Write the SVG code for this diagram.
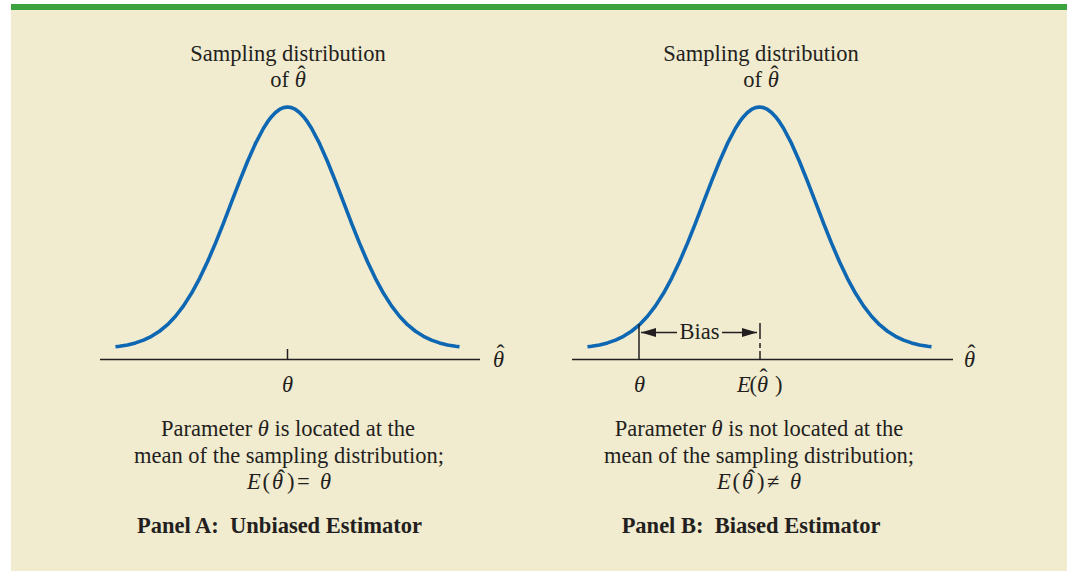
<svg xmlns="http://www.w3.org/2000/svg" xmlns:xlink="http://www.w3.org/1999/xlink" width="1070" height="572" viewBox="0 0 1070 572">
<style>
  .t { font-family: "Liberation Serif", "Times New Roman", serif; font-size: 22.5px; fill: #231F20; }
  .b { font-weight: bold; }
  .i { font-style: italic; }
  .hat { font-family: "Liberation Serif", "Times New Roman", serif; font-size: 24px; fill: #231F20; text-anchor: middle; }
  .mid { text-anchor: middle; }
  .ln { stroke: #231F20; stroke-width: 1.5; fill: none; }
  .curve { stroke: #0E67B2; stroke-width: 3.6; fill: none; stroke-linejoin: round; }
</style>
<defs>
  <path id="gauss" d="M-172,346.84 L-168,346.31 L-160,344.92 L-152,342.92 L-144,340.13 L-136,336.32 L-128,331.25 L-120,324.64 L-112,316.25 L-104,305.87 L-96,293.33 L-88,278.6 L-80,261.77 L-72,243.11 L-64,223.05 L-56,202.22 L-48,181.4 L-40,161.5 L-32,143.45 L-24,128.23 L-20,121.95 L-16,116.68 L-12,112.5 L-8,109.46 L-4,107.62 L0,107 L4,107.62 L8,109.46 L12,112.5 L16,116.68 L20,121.95 L24,128.23 L32,143.45 L40,161.5 L48,181.4 L56,202.22 L64,223.05 L72,243.11 L80,261.77 L88,278.6 L96,293.33 L104,305.87 L112,316.25 L120,324.64 L128,331.25 L136,336.32 L144,340.13 L152,342.92 L160,344.92 L168,346.31 L172,346.84"/>
  <marker id="ah" markerWidth="15" markerHeight="9" refX="15" refY="4.5" orient="auto" markerUnits="userSpaceOnUse">
    <path d="M0,0 L15,4.5 L0,9 z" fill="#231F20"/>
  </marker>
</defs>

<rect x="0" y="0" width="1070" height="572" fill="#FFFFFF"/>
<rect x="11" y="4" width="1056" height="567" fill="#F1EBCF"/>
<rect x="11" y="4" width="1056" height="6" fill="#3DA33F"/>

<g id="panelA">
  <text class="t mid" x="288" y="61">Sampling distribution</text>
  <text class="t mid" x="288" y="87">of <tspan class="i">θ</tspan></text>
  <text class="hat" x="301.5" y="82">ˆ</text>
  <use xlink:href="#gauss" href="#gauss" x="287.5" class="curve"/>
  <line class="ln" x1="100" y1="359.5" x2="480" y2="359.5"/>
  <line class="ln" x1="287.5" y1="349" x2="287.5" y2="359.5"/>
  <text class="t i" x="493" y="366.5">θ</text>
  <text class="hat" x="500.5" y="361">ˆ</text>
  <text class="t i mid" x="287.5" y="391.5">θ</text>
  <text class="t mid" x="288" y="436">Parameter <tspan class="i">θ</tspan> is located at the</text>
  <text class="t mid" x="289" y="462.5">mean of the sampling distribution;</text>
  <text class="t" y="489"><tspan class="i" x="247">E</tspan><tspan x="262.5">(</tspan><tspan class="i" x="272">θ</tspan><tspan x="287">)</tspan><tspan x="297">=</tspan><tspan class="i" x="320">θ</tspan></text>
  <text class="hat" x="281" y="485.5">ˆ</text>
  <text class="t b mid" x="279.5" y="533">Panel A:&#160; Unbiased Estimator</text>
</g>

<g id="panelB">
  <text class="t mid" x="761" y="61">Sampling distribution</text>
  <text class="t mid" x="761" y="87">of <tspan class="i">θ</tspan></text>
  <text class="hat" x="774.5" y="82">ˆ</text>
  <use xlink:href="#gauss" href="#gauss" x="759.5" class="curve"/>
  <line class="ln" x1="572" y1="359.5" x2="953" y2="359.5"/>
  <line class="ln" x1="639" y1="324" x2="639" y2="359.5"/>
  <line class="ln" x1="760" y1="323" x2="760" y2="339"/>
  <line class="ln" x1="760" y1="343" x2="760" y2="348"/>
  <line class="ln" x1="760" y1="351" x2="760" y2="359.5"/>
  <text class="t i" x="964" y="366.5">θ</text>
  <text class="hat" x="971.5" y="361">ˆ</text>
  <text class="t i mid" x="639.5" y="391.5">θ</text>
  <text class="t" y="391.5"><tspan class="i" x="737">E</tspan><tspan x="749.5">(</tspan><tspan class="i" x="757">θ</tspan><tspan x="775">)</tspan></text>
  <text class="hat" x="763.5" y="384.5">ˆ</text>
  <text class="t mid" x="759" y="436">Parameter <tspan class="i">θ</tspan> is not located at the</text>
  <text class="t mid" x="759" y="462.5">mean of the sampling distribution;</text>
  <text class="t" y="489"><tspan class="i" x="717">E</tspan><tspan x="732.5">(</tspan><tspan class="i" x="742">θ</tspan><tspan x="757">)</tspan><tspan x="767">≠</tspan><tspan class="i" x="790">θ</tspan></text>
  <text class="hat" x="751" y="485.5">ˆ</text>
  <text class="t b mid" x="751" y="533">Panel B:&#160; Biased Estimator</text>
</g>

<g id="connectors">
  <line class="ln" x1="677" y1="332.5" x2="641" y2="332.5" marker-end="url(#ah)"/>
  <line class="ln" x1="722" y1="332.5" x2="757" y2="332.5" marker-end="url(#ah)"/>
  <text class="t mid" x="699.5" y="338.5">Bias</text>
</g>
</svg>
